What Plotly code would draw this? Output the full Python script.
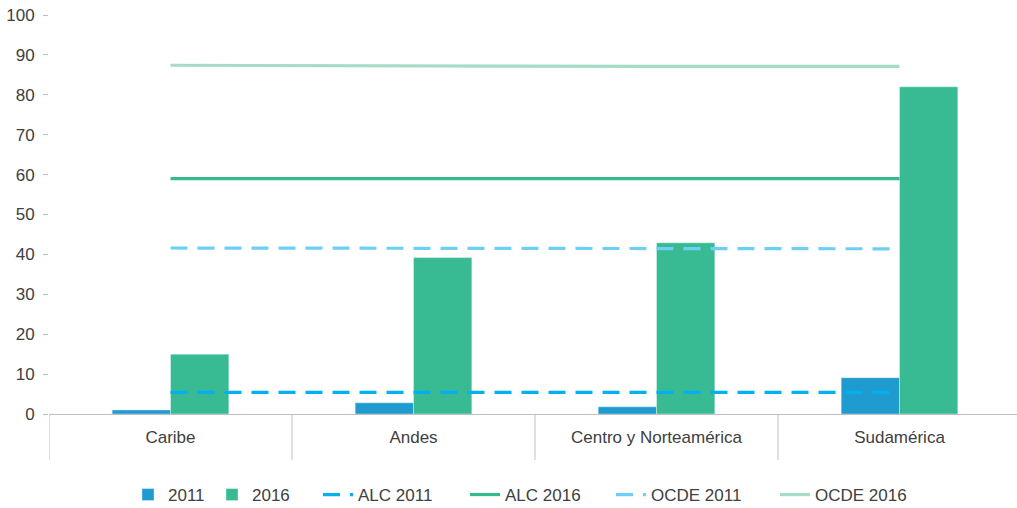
import plotly.graph_objects as go

categories = ["Caribe", "Andes", "Centro y Norteamérica", "Sudamérica"]
bar_2011 = [1.0, 2.8, 1.8, 9.1]
bar_2016 = [15.0, 39.2, 42.9, 82.0]
alc_2011 = [5.4, 5.4, 5.4, 5.4]
alc_2016 = [59.0, 59.0, 59.0, 59.0]
ocde_2011 = [41.6, 41.5, 41.4, 41.4]
ocde_2016 = [87.4, 87.2, 87.1, 87.1]
y_ticks = [0, 10, 20, 30, 40, 50, 60, 70, 80, 90, 100]

FONT = "Liberation Sans, Arial, sans-serif"
TXT = "#404040"
GREY = "#bfbfbf"
FS = 17

W, H = 1017, 508
L, R, T, B = 49, 0, 15, 94
plot_w = W - L - R
plot_h = H - T - B

fig = go.Figure()
fig.add_trace(go.Bar(x=categories, y=bar_2011, name="2011", marker=dict(color="#1f9bcf", line=dict(color="rgba(255,255,255,0.6)", width=0.6)), legend="legend"))
fig.add_trace(go.Bar(x=categories, y=bar_2016, name="2016", marker=dict(color="#38bb93", line=dict(color="rgba(255,255,255,0.6)", width=0.6)), legend="legend2"))
fig.add_trace(go.Scatter(x=categories, y=alc_2011, name="ALC 2011", mode="lines", line=dict(color="#00b0f0", width=3.2, dash="17px,10px"), legend="legend3"))
fig.add_trace(go.Scatter(x=categories, y=alc_2016, name="ALC 2016", mode="lines", line=dict(color="#35b98f", width=3.2), legend="legend4"))
fig.add_trace(go.Scatter(x=categories, y=ocde_2011, name="OCDE 2011", mode="lines", line=dict(color="#6dcff6", width=3.2, dash="17px,10px"), legend="legend5"))
fig.add_trace(go.Scatter(x=categories, y=ocde_2016, name="OCDE 2016", mode="lines", line=dict(color="#a6dcc5", width=3.2), legend="legend6"))

# category divider lines below the axis
for b in [-0.5, 0.5, 1.5, 2.5, 3.5]:
    fig.add_shape(type="line", xref="x", yref="paper", x0=b, x1=b, y0=0, y1=-46 / plot_h,
                  line=dict(color=GREY, width=1))

# legends positioned individually (text start pixels from reference)
text_starts = [168, 252, 358, 505, 651, 815]
legend_center_y = 495
legend_y = (T + plot_h - legend_center_y) / plot_h
legend_kwargs = {}
for i, ts in enumerate(text_starts):
    key = "legend" if i == 0 else f"legend{i+1}"
    legend_kwargs[key] = dict(
        x=(ts - 40 - L) / plot_w, xanchor="left", xref="paper",
        y=legend_y, yanchor="middle", orientation="h",
        font=dict(family=FONT, size=FS, color=TXT),
        bgcolor="rgba(0,0,0,0)", borderwidth=0, tracegroupgap=0,
    )

fig.update_layout(
    width=W, height=H,
    margin=dict(l=L, r=R, t=T, b=B, pad=0, autoexpand=False),
    paper_bgcolor="white", plot_bgcolor="white",
    barmode="group", bargap=0.52, bargroupgap=0,
    font=dict(family=FONT, size=FS, color=TXT),
    showlegend=True,
    hovermode=False,
    **legend_kwargs,
)
fig.update_xaxes(
    type="category", range=[-0.5, -0.5 + plot_w / 243.0],
    showline=True, linecolor=GREY, linewidth=1,
    showgrid=False, zeroline=False, automargin=False,
    ticks="outside", ticklen=8, tickcolor="rgba(0,0,0,0)",
    tickfont=dict(family=FONT, size=FS, color=TXT),
)
fig.update_yaxes(
    range=[0, 100], tickvals=y_ticks,
    showline=False, showgrid=False, zeroline=False, automargin=False,
    ticks="outside", ticklen=5, tickcolor=GREY, tickwidth=1,
    ticklabelstandoff=5, ticklabeloverflow="allow",
    tickfont=dict(family=FONT, size=FS, color=TXT),
)

fig.write_html(
    "out.html",
    config={"displayModeBar": False},
    post_script="document.body.style.margin='0px';document.body.style.overflow='hidden';",
)
